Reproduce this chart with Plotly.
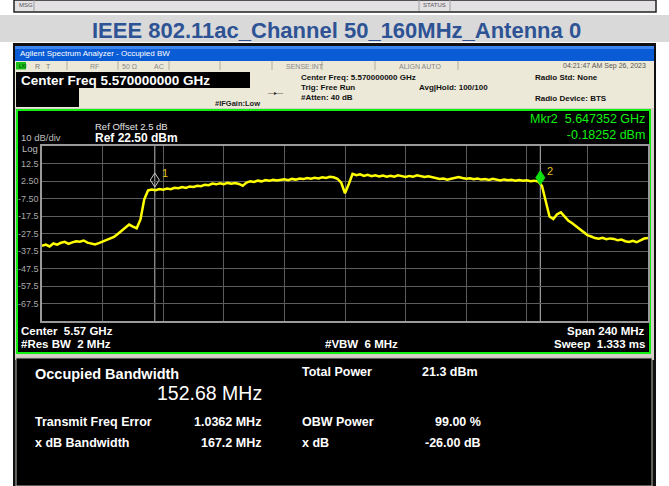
import plotly.graph_objects as go

# ---------------- data ----------------
freq_start_ghz = 5.45
freq_step_ghz = 0.0015
trace_dbm = [
    -34.5, -33.8, -34.9, -33.2, -33.9, -32.8, -32.3, -33.4, -32.6, -31.9,
    -32.2, -31.5, -32.7, -33.1, -33.8, -33.0, -32.1, -31.4, -30.6, -29.5,
    -27.8, -26.1, -23.9, -22.4, -23.6, -24.5, -19.5, -8.0, -2.9, -2.4,
    -2.8, -2.1, -2.5, -1.8, -2.2, -1.4, -1.6, -0.9, -1.5, -0.6,
    -0.9, -0.2, -0.5, 0.4, 0.1, 1.0, 0.6, 1.2, 0.7, 1.4,
    0.9, 1.3, 0.8, -0.2, 1.6, 2.4, 2.0, 2.7, 2.3, 3.0,
    2.6, 3.2, 2.8, 3.1, 3.5, 3.0, 3.7, 3.3, 3.9, 3.6,
    4.2, 3.8, 4.3, 4.0, 4.6, 4.2, 4.9, 4.6, 3.8, 1.5,
    -4.5, 0.8, 6.6, 5.8, 6.3, 5.4, 6.0, 5.2, 5.7, 5.1,
    5.6, 4.9, 5.5, 5.0, 5.8, 5.3, 4.8, 5.4, 5.0, 5.7,
    5.3, 4.8, 5.2, 4.6, 4.0, 3.6, 3.9, 3.2, 3.8, 4.3,
    4.7, 4.2, 3.8, 4.1, 3.5, 3.9, 3.3, 3.6, 3.1, 3.7,
    3.2, 2.8, 3.4, 2.9, 3.2, 2.7, 3.1, 2.6, 2.9, 2.4,
    2.7, 2.2, -0.2, -9.5, -17.8, -19.2, -16.5, -15.4, -17.9, -20.3,
    -21.6, -23.2, -24.8, -26.9, -28.4, -29.2, -30.1, -30.5, -30.0, -30.8,
    -30.3, -30.6, -31.4, -31.0, -31.9, -32.3, -31.7, -32.5, -31.2, -30.4,
    -30.0,
]
freqs_ghz = [round(freq_start_ghz + i * freq_step_ghz, 6) for i in range(len(trace_dbm))]

y_tick_vals = [12.5, 2.5, -7.5, -17.5, -27.5, -37.5, -47.5, -57.5, -67.5]
y_tick_text = ["12.5", "2.50", "-7.50", "-17.5", "-27.5", "-37.5", "-47.5", "-57.5", "-67.5"]
x_grid_vals = [5.474, 5.498, 5.522, 5.546, 5.570, 5.594, 5.618, 5.642, 5.666]
y_range = [-77.5, 22.5]
x_range = [5.45, 5.69]

marker_names = ["1", "2"]
marker_freqs = [5.494672, 5.647352]
marker_dbm = [-1.5, -0.18252]

# ---------------- layout helpers ----------------
W, H = 669, 486
PL, PR, PT, PB = 42, 648, 146, 321


def PX(x):
    return (x - PL) / (PR - PL)


def PY(y):
    return (PB - y) / (PB - PT)


shapes = []
annotations = []


def rect(x0, y0, x1, y1, fill, line=None, lw=0):
    shapes.append(dict(type="rect", xref="paper", yref="paper", layer="below",
                       x0=PX(x0), x1=PX(x1), y0=PY(y1), y1=PY(y0),
                       fillcolor=fill,
                       line=dict(color=line or fill, width=lw)))


def vline(x, y0, y1, color, lw=1):
    shapes.append(dict(type="line", xref="paper", yref="paper", layer="below",
                       x0=PX(x), x1=PX(x), y0=PY(y0), y1=PY(y1),
                       line=dict(color=color, width=lw)))


FONT = "Liberation Sans, Arial, sans-serif"


def txt(s, x, y, size, color, bold=False, xa="left", family=FONT, align="left"):
    if bold:
        s = "<b>" + s + "</b>"
    annotations.append(dict(text=s, xref="paper", yref="paper", x=PX(x), y=PY(y),
                            xanchor=xa, yanchor="middle", showarrow=False, align=align,
                            font=dict(size=size, color=color, family=family)))


NB = "\u00a0"

# top remnant (previous screenshot status bar)
rect(14, 0, 656, 12, "#e4e1e4", "#222222", 1.5)
vline(34, 0, 11, "#a0a0a0")
vline(419, 0, 11, "#a0a0a0")
vline(450, 0, 11, "#a0a0a0")
txt("MSG", 17, 5, 6, "#555555")
txt("STATUS", 421, 5, 6, "#555555")

# title band
rect(0, 15, 669, 42, "#d9d9d9")
txt("IEEE 802.11ac_Channel 50_160MHz_Antenna 0", 336, 30, 22, "#2e5395", True, "center",
    family="Liberation Sans Narrow, Arial Narrow, Liberation Sans, sans-serif")

# window frame
rect(13, 43, 656, 486, "#101010")
rect(15, 46, 654, 61, "#0a5cd6")
rect(15, 46, 654, 49, "#3c86ee")
txt("Agilent Spectrum Analyzer - Occupied BW", 18, 53.5, 8, "#ffffff")

# status row
rect(15, 61, 654, 70, "#ece9d8")
for sx in [67, 118, 169, 220, 272, 322, 375, 458]:
    vline(sx, 61, 70, "#b0ad9e")
rect(16, 62, 26, 69.5, "#18c018")
txt("LXI", 16.5, 66, 5, "#003300")
txt("R" + NB * 3 + "T", 33, 66, 7, "#777777")
txt("RF", 88, 66, 7, "#888888")
txt("50 \u03a9", 120, 66, 7, "#888888")
txt("AC", 152, 66, 7, "#888888")
txt("SENSE:INT", 284, 66, 7, "#888888")
txt("ALIGN AUTO", 397, 66, 7, "#888888")
txt("04:21:47 AM Sep 26, 2023", 648, 66, 7, "#555555", xa="right")

# header area
rect(15, 70, 654, 108, "#ece9d8")
rect(16, 72, 250, 88, "#000000")
rect(16, 88, 79, 107, "#000000")
txt("Center Freq 5.570000000 GHz", 19, 80.5, 13.5, "#ffffff", True)
txt("#IFGain:Low", 213, 103.5, 7.5, "#222222", True)
txt("\u2014\u25b8\u2014", 266, 93, 6, "#222222")
txt("Center Freq: 5.570000000 GHz", 299, 77.5, 8, "#111111", True)
txt("Trig: Free Run", 299, 87.5, 8, "#111111", True)
txt("Avg|Hold: 100/100", 417, 87.5, 8, "#111111", True)
txt("#Atten: 40 dB", 299, 97.5, 8, "#111111", True)
txt("Radio Std: None", 533, 77.5, 8, "#111111", True)
txt("Radio Device: BTS", 533, 98.5, 8, "#111111", True)

# graph panel and results panel
rect(15, 108, 654, 360, "#d4d0c8")
rect(17, 110, 650, 353, "#000000", "#10f010", 2)
rect(16, 358, 652, 486, "#000000", "#bdb9ae", 1)

# graph panel texts
txt("Ref Offset 2.5 dB", 93, 126, 9.5, "#e6e6e6")
txt("10 dB/div", 19, 137.5, 9.5, "#bdbdbd")
txt("Ref 22.50 dBm", 93, 137.5, 12, "#ffffff", True)
txt("Log", 20, 148, 9.5, "#bdbdbd")
txt("Mkr2" + NB * 2 + "5.647352 GHz<br>-0.18252 dBm", 647, 127, 12.5, "#12f012",
    xa="right", align="right")
txt("Center" + NB * 2 + "5.57 GHz", 19, 330.5, 11.5, "#ffffff", True)
txt("#Res BW" + NB * 2 + "2 MHz", 19, 343.5, 11.5, "#ffffff", True)
txt("#VBW" + NB * 2 + "6 MHz", 323, 343.5, 11.5, "#ffffff", True)
txt("Span 240 MHz", 647, 330.5, 11.5, "#ffffff", True, "right")
txt("Sweep" + NB * 2 + "1.333 ms", 647, 343.5, 11.5, "#ffffff", True, "right")

# results texts
txt("Occupied Bandwidth", 33, 373.5, 14.5, "#ffffff", True)
txt("152.68 MHz", 155, 393, 19.5, "#ffffff")
txt("Total Power", 300, 371.5, 12.5, "#ffffff", True)
txt("21.3 dBm", 420, 371.5, 12.5, "#ffffff", True)
txt("Transmit Freq Error", 33, 421.5, 12.5, "#ffffff", True)
txt("1.0362 MHz", 263, 421.5, 12.5, "#ffffff", True, "right")
txt("OBW Power", 300, 421.5, 12.5, "#ffffff", True)
txt("99.00 %", 483, 421.5, 12.5, "#ffffff", True, "right")
txt("x dB Bandwidth", 33, 442.5, 12.5, "#ffffff", True)
txt("167.2 MHz", 263, 442.5, 12.5, "#ffffff", True, "right")
txt("x dB", 300, 442.5, 12.5, "#ffffff", True)
txt("-26.00 dB", 483, 442.5, 12.5, "#ffffff", True, "right")

# marker lines, diamonds and labels (data coordinates)
diamond_fill = ["rgba(0,0,0,0)", "#10e010"]
diamond_line = ["#c8c8c8", "#10e010"]
for k in range(len(marker_freqs)):
    shapes.append(dict(type="line", xref="x", yref="paper", layer="below",
                       x0=marker_freqs[k], x1=marker_freqs[k], y0=0, y1=1,
                       line=dict(color="#bdbdbd", width=1)))
for k in range(len(marker_freqs)):
    shapes.append(dict(type="path", xref="x", yref="y", layer="above",
                       xsizemode="pixel", ysizemode="pixel",
                       xanchor=marker_freqs[k], yanchor=marker_dbm[k],
                       path="M0,1 L4.5,8 L0,15 L-4.5,8 Z",
                       fillcolor=diamond_fill[k],
                       line=dict(color=diamond_line[k], width=1)))
    annotations.append(dict(text=marker_names[k], x=marker_freqs[k], y=marker_dbm[k],
                            xref="x", yref="y", xshift=10, yshift=15, showarrow=False,
                            font=dict(size=11, color="#e8c81a", family=FONT)))

fig = go.Figure()
fig.add_trace(go.Scatter(x=freqs_ghz, y=trace_dbm, mode="lines",
                         line=dict(color="#ffff00", width=2.5), hoverinfo="skip",
                         showlegend=False))

fig.update_layout(
    width=W, height=H, autosize=False,
    margin=dict(l=PL, r=W - PR, t=PT, b=H - PB, pad=0),
    paper_bgcolor="#ffffff", plot_bgcolor="#000000",
    showlegend=False, hovermode=False,
    shapes=shapes, annotations=annotations,
    xaxis=dict(range=x_range, tickvals=x_grid_vals, showticklabels=False, ticks="",
               showgrid=True, gridcolor="#5c5c5c", gridwidth=1, zeroline=False,
               showline=True, mirror=True, linecolor="#9a9a9a", linewidth=1.5),
    yaxis=dict(range=y_range, tickvals=y_tick_vals, ticktext=y_tick_text, ticks="",
               tickfont=dict(size=9, color="#a8a8a8", family=FONT),
               showgrid=True, gridcolor="#5c5c5c", gridwidth=1, zeroline=False,
               showline=True, mirror=True, linecolor="#9a9a9a", linewidth=1.5),
)

fig.write_html("out.html", config={"displayModeBar": False},
               post_script="document.body.style.margin='0';document.body.style.padding='0';")
